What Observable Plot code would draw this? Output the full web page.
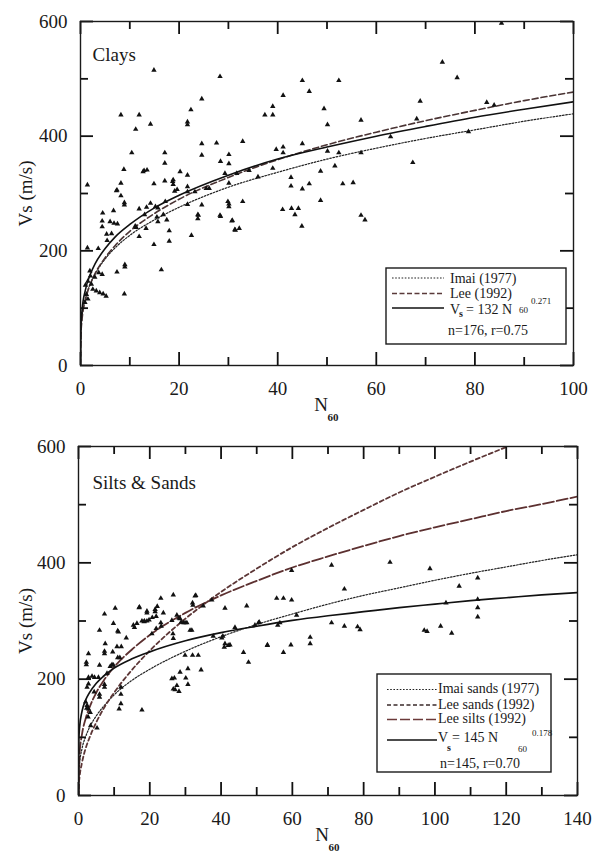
<!DOCTYPE html>
<html><head><meta charset="utf-8">
<script src="https://cdn.jsdelivr.net/npm/d3@7"></script>
<script src="https://cdn.jsdelivr.net/npm/@observablehq/plot@0.6"></script>
<style>
body{margin:0;background:#fff;}
#c{position:relative;width:592px;height:854px;overflow:hidden;font-family:"Liberation Serif",serif;}
#c svg{display:block;}
</style></head><body><div id="c"></div>
<script>
// ---------- Clays panel data ----------
const clayN  = [14.9,28.3,24.6,22.4,21.7,21.7,8.2,11.9,14.2,11.2,10.4,8.8,12.9,13.5,17.1,17.1,14.9,17.1,18.7,20.2,21.7,24.6,24.6,27.6,30.1,28.4,30.1,32.9,1.4,7.3,8.2,8.2,8.9,8.9,4.5,6.7,37.4,39,39,41.1,39.7,41.1,39,36,34.2,31.7,30.1,30.1,30.1,32.9,41,42.8,44.2,43.5,85.4,73.4,76.4,45,52.4,46.4,49.4,50.1,56.9,68.9,68.2,82.4,83.9,78.7,62.9,45,50.1,52.4,56.9,51.6,48.7,42.7,42.7,46.4,45,53.2,55.3,67.4,48.7,56.9,57.7,4.4,4.4,6,6.8,7.5,7.4,11.9,12.7,14.2,15.2,15.7,18.8,18.8,17.2,19.1,19.6,21.7,21.7,21.7,22.5,18,18,14.9,16.4,9,9,7.4,8.9,11.9,13.3,11.3,13,15.7,23.2,23.8,23.8,24.6,25.5,26.1,28.4,29.3,29.9,30.7,31.4,32.2,41.1,44.9,2,2.9,3.7,4.4,1.5,2.2,2.5,3.2,3.9,4.6,5.2,1.2,1.5,0.9,1.4,3.6,5.3,6.3,5.4,1.9,1.0,16.8,17.5,15.5,23.9,28.3,30.8,31.3,11.1,13.4];
const clayVs = [515,504,465,446,425,420,437,437,421,412,371,342,340,341,371,353,317,322,321,338,332,387,367,388,368,356,352,391,315,305,318,296,284,280,266,270,437,437,452,471,377,381,344,329,340,335,318,282,277,286,272,274,274,263,597,529,502,497,497,478,448,420,428,461,430,459,454,408,399,387,374,371,371,348,339,328,313,317,308,317,319,354,288,262,254,252,242,251,248,247,306,273,338,283,277,275,324,316,286,304,307,312,303,281,227,235,217,211,167,172,176,163,125,225,239,241,263,251,303,263,256,280,309,309,260,335,286,252,236,239,371,243,156,154,162,159,147,142,133,130,127,125,121,124,116,110,205,204,229,230,218,165,140,263,254,259,262,262,253,237,243,276];
// curves (clays)
const clayGrid  = [0,0.1,0.3,1,2,3,5,7,10,15,20,30,40,50,60,70,80,90,100];
const imaiClay  = [0,60,83,117,143,160,186,205,227,254,276,311,337,360,379,396,411,426,439];
const leeClay   = [0,56,79,114,142,161,188,209,234,265,290,328,359,385,407,427,445,462,477];
const fitClay   = [0,71,95,132,159,178,204,224,246,275,297,332,360,381,400,417,433,447,460];

// ---------- Silts & Sands panel data ----------
const sandN  = [26.6,32.7,23.1,10.3,7.3,17.1,19.2,19.2,21.5,22.1,23.8,26.2,28.5,27.6,29.4,30.4,32.1,35,37.4,41.1,47.2,55.6,57.5,59.8,59.8,56.5,50.5,5.9,9.8,11.2,13.4,15.4,16.4,18.4,19.2,20.6,23.1,26.5,31.8,7.5,10.8,12,41.1,42,53,59.6,40.5,37.8,26.6,11,7.3,7.3,9.6,11,11.6,2.8,2.2,2.2,5.9,8.9,9.4,9.8,8,2.8,3.8,4.5,5.6,2.8,2.4,7.3,7.3,4.4,5.9,5.9,2.4,2.8,3.3,11.9,11.9,11.9,11.4,5.2,17.8,15.7,17,17.8,18.5,19.8,20.7,21.5,21.8,21.8,23.2,28.2,28.8,29.9,31.3,32,32.9,29.9,32,33.6,34.4,30.7,28.5,26.2,26.9,30.1,30.7,27.6,27.1,28.2,26.6,40.2,40.9,42.5,43.9,46.3,47.7,50.7,49.5,53,55.9,61.2,57.5,65,65,71,87.4,98.6,74.6,106.8,112,112,112,112,103.1,71,74.6,78.3,79,97,97.8,101.6,104.7,2,2.3,2.7,3.4];
const sandVs = [345,343,339,322,312,324,317,314,320,325,314,301,304,310,297,297,327,326,336,322,326,339,339,336,387,297,297,284,296,281,271,293,296,299,300,278,297,278,284,261,256,256,261,258,259,259,274,274,270,283,248,244,247,237,237,244,229,225,224,222,225,224,210,203,205,203,203,192,186,191,186,178,174,169,155,149,143,186,174,158,149,116,147,289,323,300,300,302,306,316,308,287,291,305,298,297,284,331,344,241,241,241,216,218,212,201,202,202,191,189,182,179,183,271,255,259,289,246,229,298,293,258,293,310,246,272,261,396,401,390,355,360,374,337,323,307,331,297,291,290,285,284,282,291,279,161,150,135,120];
// curves (silts & sands)
const sandGrid  = [0,0.1,0.3,1,2,3,5,7,10,15,20,30,40,50,60,70,80,90,100,110,120,130,140];
const imaiSand  = [0,38,54,81,101,116,137,153,173,198,217,248,273,294,312,329,344,357,370,382,393,404,414];
const leeSand   = [0,19,32,57,81,98,126,149,177,216,249,304,350,390,427,460,491,521,548,574,599];
const leeSilt   = [0,51,72,106,132,150,177,197,221,251,276,314,344,369,392,411,429,446,461,475,489,501,514];
const fitSand   = [0,96,117,145,164,176,193,205,219,235,247,266,280,291,301,309,316,323,329,335,340,345,349];

// tick values and labels
const yTicks = [0,200,400,600];
const yMinor = [100,300,500];
const clayXTicks = [0,20,40,60,80,100];
const clayXMinor = [10,30,50,70,90];
const sandXTicks = [0,20,40,60,80,100,120,140];
const sandXMinor = [10,30,50,70,90,110,130];

const FONT = "Liberation Serif";
const INK = "#1a1a1a";

function series(grid, vals){ return vals.map((v,i)=>({n:grid[i], v})); }

function panel(o){
  const innerW = o.width - o.ml - o.mr, innerH = o.height - o.mt - o.mb;
  const pts = o.N.map((n,i)=>({n, v:o.V[i]}));
  const ddy = len => 600 * len / innerH, ddx = len => o.xMax * len / innerW;
  const tickStyle = {stroke:"#111", strokeWidth:1.8};
  const marks = [];
  for (const c of o.curves) {
    marks.push(Plot.line(series(c.grid, c.vals), {x:"n", y:"v", curve:"monotone-x", stroke:c.stroke, strokeWidth:c.w, strokeDasharray:c.dash, clip:true}));
  }
  marks.push(Plot.dot(pts, {x:"n", y:"v", symbol:"triangle", r:2, fill:"#111", stroke:"none", clip:true}));
  // inward ticks on all four sides (major and minor), drawn through the plot's scales
  for (const [vals, len] of [[o.xTicks,13],[o.xMinor,8]]) {
    marks.push(Plot.ruleX(vals, {x:d=>d, y1:0, y2:ddy(len), ...tickStyle}));
    marks.push(Plot.ruleX(vals, {x:d=>d, y1:600 - ddy(len), y2:600, ...tickStyle}));
  }
  for (const [vals, len] of [[yTicks,13],[yMinor,8]]) {
    marks.push(Plot.ruleY(vals, {y:d=>d, x1:0, x2:ddx(len), ...tickStyle}));
    marks.push(Plot.ruleY(vals, {y:d=>d, x1:o.xMax - ddx(len), x2:o.xMax, ...tickStyle}));
  }
  marks.push(
    Plot.frame({stroke:INK, strokeWidth:1.4}),
    Plot.text([o.title], {frameAnchor:"top-left", dx:o.titleDx, dy:o.titleDy, textAnchor:"start", lineAnchor:"top", fontSize:19, fill:INK}),
    Plot.text(["Vs (m/s)"], {frameAnchor:"left", dx:-o.ml+25, rotate:-90, textAnchor:"middle", fontSize:19, fill:INK}),
    Plot.text(["N"], {frameAnchor:"bottom", dx:-6, dy:45, fontSize:19, fill:INK}),
    Plot.text(["60"], {frameAnchor:"bottom", dx:6, dy:55, fontSize:11, fontWeight:"bold", fill:INK})
  );
  return Plot.plot({
    width:o.width, height:o.height,
    marginLeft:o.ml, marginRight:o.mr, marginTop:o.mt, marginBottom:o.mb,
    x:{domain:[0,o.xMax], ticks:o.xTicks, tickSize:0, tickPadding:16, label:null},
    y:{domain:[0,600], ticks:yTicks, tickSize:0, tickPadding:13, label:null},
    style:{fontFamily:FONT, fontSize:"19px", color:INK, background:"transparent", overflow:"visible"},
    marks
  });
}

function addLegend(svg, L){
  const g = d3.select(svg).append("g").attr("font-family", FONT).attr("fill", INK).attr("text-anchor","start");
  g.append("rect").attr("x",L.box[0]).attr("y",L.box[1]).attr("width",L.box[2]).attr("height",L.box[3])
    .attr("fill","#fff").attr("stroke",INK).attr("stroke-width",1.4);
  for (const r of L.rows){
    g.append("line").attr("x1",L.lx1).attr("x2",L.lx2).attr("y1",r.ly).attr("y2",r.ly)
      .attr("stroke",r.stroke).attr("stroke-width",r.w).attr("stroke-dasharray",r.dash||null);
    if (r.text) g.append("text").attr("x",L.tx).attr("y",r.ty).attr("font-size",14).text(r.text);
  }
  const f = L.formula;
  const t = g.append("text").attr("y",f.y).attr("font-size",14);
  t.append("tspan").attr("x",f.xV).text("V");
  t.append("tspan").attr("x",f.xs).attr("y",f.y+f.subDy).attr("font-size",10).attr("font-weight","bold").text("s");
  t.append("tspan").attr("x",f.xEq).attr("y",f.y).text(f.eq);
  t.append("tspan").attr("x",f.x60).attr("y",f.y+f.sub60).attr("font-size",9).text("60");
  t.append("tspan").attr("x",f.xExp).attr("y",f.y+f.supDy).attr("font-size",9).text(f.exp);
  g.append("text").attr("x",L.nx).attr("y",L.ny).attr("font-size",14).text(L.ntext);
}

const root = document.getElementById("c");

const topSvg = panel({width:592, height:425, ml:80, mr:19, mt:21, mb:60, xMax:100,
  N:clayN, V:clayVs, xTicks:clayXTicks, xMinor:clayXMinor, title:"Clays", titleDx:12, titleDy:26,
  curves:[
    {grid:clayGrid, vals:imaiClay, stroke:"#222", w:1.2, dash:"1.6,1.6"},
    {grid:clayGrid, vals:leeClay, stroke:"#4a3434", w:1.6, dash:"6,3"},
    {grid:clayGrid, vals:fitClay, stroke:"#111", w:1.6, dash:null}
  ]});
addLegend(topSvg, {
  box:[386,268,180,76], lx1:392, lx2:444, tx:450,
  rows:[
    {ly:278, ty:282.5, text:"Imai (1977)", stroke:"#222", w:1.2, dash:"1.6,1.6"},
    {ly:293.5, ty:297.5, text:"Lee (1992)", stroke:"#5a3a3a", w:1.4, dash:"5,2.5"},
    {ly:308, ty:null, text:null, stroke:"#111", w:1.4, dash:null}
  ],
  formula:{y:313.5, xV:450, xs:459, subDy:3, xEq:466, eq:"= 132 N", x60:519, sub60:-1, xExp:531, supDy:-10, exp:"0.271"},
  nx:448, ny:335, ntext:"n=176, r=0.75"
});
root.appendChild(topSvg);

const bottomSvg = panel({width:592, height:429, ml:78, mr:15, mt:21, mb:59, xMax:140,
  N:sandN, V:sandVs, xTicks:sandXTicks, xMinor:sandXMinor, title:"Silts & Sands", titleDx:14, titleDy:29,
  curves:[
    {grid:sandGrid, vals:imaiSand, stroke:"#222", w:1.2, dash:"1.6,1.6"},
    {grid:sandGrid, vals:leeSand, stroke:"#5c3636", w:1.8, dash:"4,3"},
    {grid:sandGrid, vals:leeSilt, stroke:"#5c3030", w:1.8, dash:"11,3"},
    {grid:sandGrid, vals:fitSand, stroke:"#111", w:1.7, dash:null}
  ]});
addLegend(bottomSvg, {
  box:[377,249,174,98], lx1:387, lx2:437, tx:438,
  rows:[
    {ly:264.5, ty:268, text:"Imai sands (1977)", stroke:"#222", w:1.2, dash:"1.6,1.6"},
    {ly:280, ty:284, text:"Lee sands (1992)", stroke:"#3a2a2a", w:1.4, dash:"4,2.5"},
    {ly:294.5, ty:298, text:"Lee silts (1992)", stroke:"#6b3a3a", w:1.4, dash:"10,3"},
    {ly:315, ty:null, text:null, stroke:"#111", w:1.4, dash:null}
  ],
  formula:{y:316.5, xV:438, xs:447, subDy:9, xEq:452, eq:"= 145 N", x60:518, sub60:10, xExp:532, supDy:-6, exp:"0.178"},
  nx:440, ny:343, ntext:"n=145, r=0.70"
});
root.appendChild(bottomSvg);
</script>
</body></html>
